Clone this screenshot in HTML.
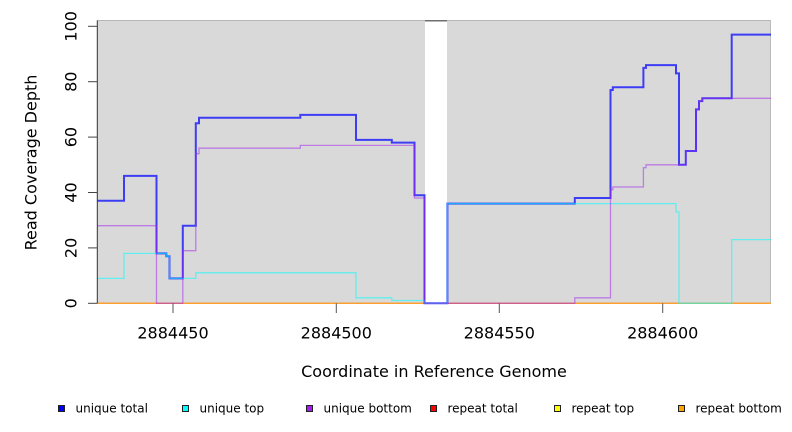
<!DOCTYPE html>
<html><head><meta charset="utf-8"><style>
html,body{margin:0;padding:0;background:#fff;}
svg{display:block;}
text{font-family:"DejaVu Sans","Liberation Sans",sans-serif;fill:#000;}
</style></head><body>
<svg width="792" height="432" viewBox="0 0 792 432" xmlns="http://www.w3.org/2000/svg">
<rect x="0" y="0" width="792" height="432" fill="#fff"/>
<!-- plot background -->
<rect x="97" y="20" width="328" height="283.3" fill="#d9d9d9"/>
<rect x="447" y="20" width="324" height="283.3" fill="#d9d9d9"/>
<line x1="97" y1="20.5" x2="425" y2="20.5" stroke="#b6b6b6" stroke-width="1"/>
<line x1="425" y1="20.8" x2="447" y2="20.8" stroke="#6f6f6f" stroke-width="1.5"/>
<line x1="447" y1="20.5" x2="771" y2="20.5" stroke="#b6b6b6" stroke-width="1"/>
<line x1="770.5" y1="20" x2="770.5" y2="303.3" stroke="#bbbbbb" stroke-width="1"/>

<!-- repeat series at 0 -->
<path d="M97,303.3 H771" fill="none" stroke="#ff0000" stroke-opacity="0.4" stroke-width="1.3"/>
<path d="M97,303.3 H771" fill="none" stroke="#ffa500" stroke-opacity="0.7" stroke-width="1.3"/>

<!-- unique total -->
<path d="M97,200.8 H124 V175.9 H156.5 V253.4 H166.3 V256.2 H169.5 V278.4 H182.8 V225.7 H195.8 V123.3 H199 V117.7 H300.3 V114.9 H356 V139.9 H391.8 V142.6 H414.5 V195.3 H424.5 V303.3 H447.4 V203.6 H574.8 V198 H610.5 V90 H612.8 V87.2 H643.4 V67.9 H646 V65.1 H676 V73.4 H679 V164.8 H685.8 V151 H696 V109.4 H699 V101.1 H702.3 V98.3 H731.7 V34.6 H771" fill="none" stroke="#0000ff" stroke-opacity="0.72" stroke-width="2"/>
<!-- unique top -->
<path d="M97,278.4 H124 V253.4 H166.3 V256.2 H169.5 V278.4 H195.8 V272.8 H356 V297.8 H391.8 V300.5 H424.5 V303.3 H447.4 V203.6 H676 V211.9 H679 V303.3 H731.7 V239.6 H771" fill="none" stroke="#00ffff" stroke-opacity="0.55" stroke-width="1.3"/>
<!-- unique bottom -->
<path d="M97,225.7 H156.5 V303.3 H182.8 V250.7 H195.8 V153.7 H199 V148.2 H300.3 V145.4 H414.5 V198 H424.5 V303.3 H574.8 V297.8 H610.5 V189.7 H612.8 V187 H643.4 V167.7 H646 V164.8 H685.8 V151 H696 V109.4 H699 V101.1 H702.3 V98.3 H771" fill="none" stroke="#a020f0" stroke-opacity="0.5" stroke-width="1.3"/>

<!-- y axis -->
<line x1="97.3" y1="20.5" x2="97.3" y2="303.3" stroke="#333" stroke-width="1"/>
<g stroke="#444" stroke-width="1">
<line x1="88" y1="303.3" x2="97.3" y2="303.3"/>
<line x1="88" y1="247.9" x2="97.3" y2="247.9"/>
<line x1="88" y1="192.5" x2="97.3" y2="192.5"/>
<line x1="88" y1="137.1" x2="97.3" y2="137.1"/>
<line x1="88" y1="81.7" x2="97.3" y2="81.7"/>
<line x1="88" y1="26.3" x2="97.3" y2="26.3"/>
</g>
<g font-size="16" text-anchor="middle">
<text transform="translate(76.3,303.3) rotate(-90)">0</text>
<text transform="translate(76.3,247.9) rotate(-90)">20</text>
<text transform="translate(76.3,192.5) rotate(-90)">40</text>
<text transform="translate(76.3,137.1) rotate(-90)">60</text>
<text transform="translate(76.3,81.7) rotate(-90)">80</text>
<text transform="translate(76.3,26.3) rotate(-90)">100</text>
<text transform="translate(36.5,162.5) rotate(-90)">Read Coverage Depth</text>
</g>

<!-- x axis ticks -->
<g stroke="#555" stroke-width="1">
<line x1="173" y1="303.3" x2="173" y2="313"/>
<line x1="336.3" y1="303.3" x2="336.3" y2="313"/>
<line x1="499.3" y1="303.3" x2="499.3" y2="313"/>
<line x1="662.7" y1="303.3" x2="662.7" y2="313"/>
</g>
<g font-size="16" text-anchor="middle">
<text x="173" y="338.5">2884450</text>
<text x="336.3" y="338.5">2884500</text>
<text x="499.3" y="338.5">2884550</text>
<text x="662.7" y="338.5">2884600</text>
<text x="434" y="377">Coordinate in Reference Genome</text>
</g>

<!-- legend -->
<g stroke="#222" stroke-width="1">
<rect x="58.5" y="405.5" width="6" height="6" fill="#0000ff"/>
<rect x="182.5" y="405.5" width="6" height="6" fill="#00ffff"/>
<rect x="306.5" y="405.5" width="6" height="6" fill="#a020f0"/>
<rect x="430.5" y="405.5" width="6" height="6" fill="#ff0000"/>
<rect x="554.5" y="405.5" width="6" height="6" fill="#ffff00"/>
<rect x="678.5" y="405.5" width="6" height="6" fill="#ffa500"/>
</g>
<g font-size="12">
<text x="75.5" y="412.4">unique total</text>
<text x="199.5" y="412.4">unique top</text>
<text x="323.5" y="412.4">unique bottom</text>
<text x="447.5" y="412.4">repeat total</text>
<text x="571.5" y="412.4">repeat top</text>
<text x="695.5" y="412.4">repeat bottom</text>
</g>
</svg>
</body></html>
